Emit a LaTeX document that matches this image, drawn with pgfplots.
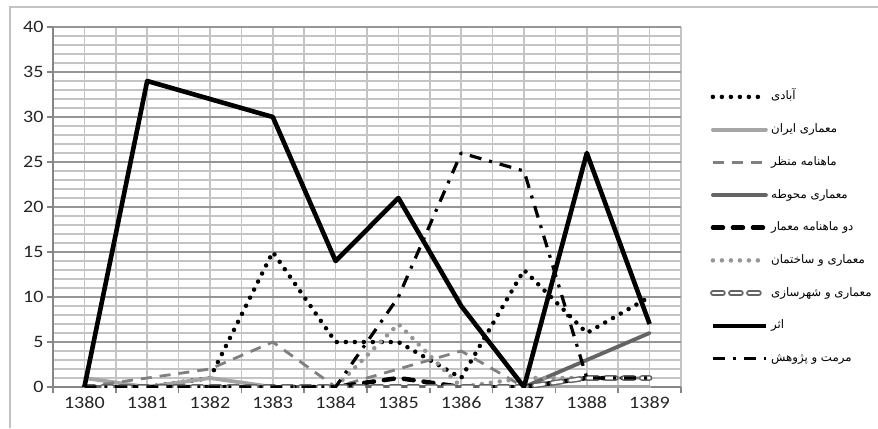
\documentclass[border=0pt]{standalone}
\usepackage{pgfplots}
\pgfplotsset{compat=1.18}
\usepackage{fontspec}
\setmainfont{Carlito}[FakeStretch=1.15]
\newfontfamily\fa[Script=Arabic]{DejaVu Sans}
\TeXXeTstate=1
\definecolor{gridc}{RGB}{196,196,196}
\definecolor{gridmaj}{RGB}{150,150,150}
\definecolor{axisc}{RGB}{134,134,134}
\definecolor{framec}{RGB}{195,195,195}
\definecolor{lgray}{RGB}{166,166,166}
\definecolor{mgray}{RGB}{128,128,128}
\definecolor{dgray}{RGB}{100,100,100}
\definecolor{dotgray}{RGB}{150,150,150}
\begin{document}
\begin{tikzpicture}[x=1bp,y=1bp]
\useasboundingbox (0,0) rectangle (878,428);
\fill[white] (0,0) rectangle (878,428);
\draw[color=framec, line width=1.5bp] (10,0) -- (10,421) -- (878,421);
\begin{axis}[
  at={(53bp,41bp)}, anchor=south west,
  scale only axis, width=628bp, height=360bp,
  xmin=1379.5, xmax=1389.5, ymin=0, ymax=40,
  xtick={1380,...,1389},
  minor xtick={1379.5,1380.5,...,1389.5},
  ytick={0,5,...,40},
  minor y tick num=4,
  /pgf/number format/assume math mode=true,
  /pgf/number format/set thousands separator={},
  ticklabel style={font=\fontsize{17.5}{20}\selectfont, text=black!85},
  axis x line*=bottom, axis y line*=left,
  axis line style={draw=axisc, line width=1.5bp, -},
  grid=both,
  major x grid style={draw=gridc, line width=1.6bp},
  minor x grid style={draw=gridc, line width=1.6bp},
  major y grid style={draw=gridmaj, line width=1.6bp},
  minor y grid style={draw=gridc, line width=1.6bp},
  tick align=outside,
  major tick length=6bp, minor tick length=6bp,
  tick style={draw=axisc, line width=1.5bp},
  major x tick style={draw=none},
  minor y tick style={draw=none},
  legend cell align=left,
  legend style={at={(1.046,0.83)}, anchor=north west, draw=none, fill=none,
    inner sep=0pt, row sep=15.7bp,
    font=\fa\fontsize{11.8}{13.5}\selectfont,
    nodes={inner sep=2.5bp, text height=9bp, text depth=3bp}},
  legend image code/.code={\draw[#1] (1bp,0bp) -- (54bp,0bp);},
  every axis plot/.append style={line join=round},
]
\addplot[black, line width=4.5bp, line cap=round, dash pattern=on 0bp off 9bp] coordinates {
(1380,0) (1381,0) (1382,1) (1383,15) (1384,5) (1385,5) (1386,1) (1387,13) (1388,6) (1389,10)};
\addlegendentry{\beginR آبادی\endR}
\addplot[lgray, line width=3.8bp, line cap=round] coordinates {
(1380,1) (1381,0) (1382,1) (1383,0) (1384,0) (1385,0) (1386,0) (1387,0) (1388,0) (1389,0)};
\addlegendentry{\beginR معماری ایران\endR}
\addplot[mgray, line width=2.8bp, dash pattern=on 11bp off 8bp] coordinates {
(1380,0) (1381,1) (1382,2) (1383,5) (1384,0) (1385,2) (1386,4) (1387,0) (1388,1) (1389,1)};
\addlegendentry{\beginR ماهنامه منظر\endR}
\addplot[dgray, line width=3.8bp, line cap=round] coordinates {
(1380,0) (1381,0) (1382,0) (1383,0) (1384,0) (1385,0) (1386,0) (1387,0) (1388,3) (1389,6)};
\addlegendentry{\beginR معماری محوطه\endR}
\addplot[black, line width=4.5bp, line cap=round, dash pattern=on 10bp off 10bp] coordinates {
(1380,0) (1381,0) (1382,0) (1383,0) (1384,0) (1385,1) (1386,0) (1387,0) (1388,1) (1389,1)};
\addlegendentry{\beginR دو ماهنامه معمار\endR}
\addplot[dotgray, line width=4.5bp, line cap=round, dash pattern=on 0bp off 9bp] coordinates {
(1380,0) (1381,0) (1382,0) (1383,0) (1384,0) (1385,7) (1386,0) (1387,1) (1388,1) (1389,1)};
\addlegendentry{\beginR معماری و ساختمان\endR}
\addplot[dgray, line width=1.5bp, double=white, double distance=2.6bp, line cap=round, dash pattern=on 10bp off 8bp] coordinates {
(1380,0) (1381,0) (1382,0) (1383,0) (1384,0) (1385,0) (1386,0) (1387,0) (1388,1) (1389,1)};
\addlegendentry{\beginR معماری و شهرسازی\endR}
\addplot[black, line width=4.6bp] coordinates {
(1380,0) (1381,34) (1382,32) (1383,30) (1384,14) (1385,21) (1386,9) (1387,0) (1388,26) (1389,7)};
\addlegendentry{\beginR اثر\endR}
\addplot[black, line width=3.2bp, dash pattern=on 12bp off 8bp on 3bp off 8bp] coordinates {
(1380,0) (1381,0) (1382,0) (1383,0) (1384,0) (1385,10) (1386,26) (1387,24) (1388,1) (1389,1)};
\addlegendentry{\beginR مرمت و پژوهش\endR}
\end{axis}
\end{tikzpicture}
\end{document}
